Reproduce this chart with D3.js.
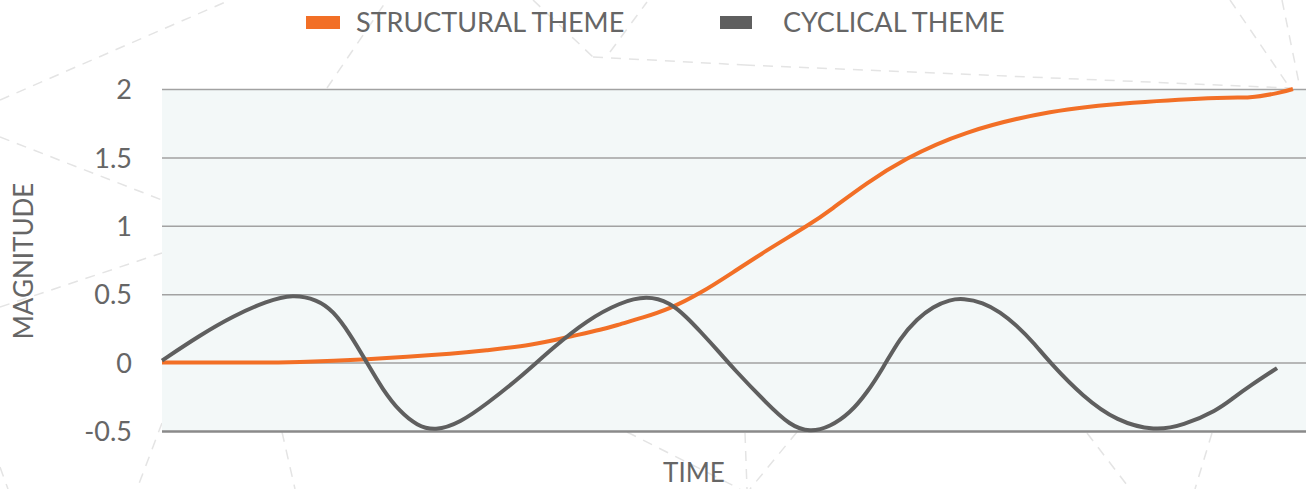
<!DOCTYPE html>
<html>
<head>
<meta charset="utf-8">
<script src="https://cdn.jsdelivr.net/npm/d3@7"></script>
<style>
  html, body { margin: 0; padding: 0; background: #fff; }
  svg { display: block; }
  text { font-family: Lato, "Open Sans", sans-serif; fill: #666; }
</style>
</head>
<body>
<div id="chart"></div>
<script>
// ── data (time is 0..100 across the plot) ──
const SERIES_NAMES = ["STRUCTURAL THEME", "CYCLICAL THEME"];
const Y_TICKS      = [-0.5, 0, 0.5, 1, 1.5, 2];

const STRUCT_T = [0, 7.69, 12.06, 17.92, 25.17, 28.41, 32.17, 35.40, 38.29, 40.03, 42.05, 44.41, 47.03, 49.91, 52.88, 56.38, 58.65, 61.63, 65.12, 70.37, 77.62, 84.88, 92.22, 95.10, 97.47, 98.86];
const STRUCT_V = [0, 0, 0.005, 0.025, 0.065, 0.09, 0.13, 0.185, 0.24, 0.28, 0.33, 0.4, 0.51, 0.66, 0.82, 1.0, 1.13, 1.31, 1.49, 1.68, 1.83, 1.9, 1.935, 1.94, 1.97, 2.0];

const CYCLE_T = [0, 3.32, 6.21, 9.18, 11.45, 13.55, 14.95, 16.43, 17.91, 19.31, 20.80, 22.29, 23.86, 26.05, 28.41, 31.29, 34.18, 37.15, 40.03, 42.39, 44.41, 45.89, 47.03, 48.78, 49.91, 52.88, 54.90, 56.64, 58.39, 60.14, 61.63, 63.02, 64.51, 66.00, 67.40, 68.88, 70.02, 71.77, 73.25, 74.74, 76.14, 77.62, 80.51, 83.48, 86.80, 89.25, 92.22, 93.62, 95.10, 97.47];
const CYCLE_V = [0.015, 0.2, 0.34, 0.45, 0.5, 0.46, 0.38, 0.21, 0, -0.2, -0.36, -0.46, -0.5, -0.44, -0.3, -0.11, 0.11, 0.31, 0.44, 0.49, 0.44, 0.33, 0.23, 0.07, -0.04, -0.3, -0.46, -0.51, -0.47, -0.37, -0.22, -0.04, 0.18, 0.32, 0.41, 0.46, 0.47, 0.44, 0.37, 0.27, 0.15, 0, -0.25, -0.43, -0.5, -0.46, -0.35, -0.26, -0.17, -0.04];

// decorative dashed network behind the chart (page pixels)
const BG_LINES = [
  [[0, 100], [230, 0]], [[0, 137], [162, 200]], [[0, 307], [162, 253]],
  [[327, 88], [387, 0]], [[533, 0], [593, 57]], [[610, 52], [647, 2]],
  [[593, 57], [745, 65]], [[745, 65], [1290, 88]], [[1230, 0], [1290, 88]],
  [[1282, 0], [1300, 88]], [[162, 423], [137, 489]], [[282, 432], [295, 489]],
  [[0, 467], [8, 489]], [[627, 432], [740, 489]], [[745, 433], [747, 489]],
  [[797, 432], [750, 489]], [[1087, 433], [1130, 489]], [[1212, 433], [1195, 489]]
];

// ── layout ──
const W = 1306, H = 489;
const M = { left: 162, right: 0, top: 89, bottom: 58 };
const COLORS = ["#f26f26", "#5f5f5f"];

const svg = d3.select("#chart").append("svg")
  .attr("width", W).attr("height", H);

// background network
svg.append("g").selectAll("line").data(BG_LINES).join("line")
  .attr("x1", d => d[0][0]).attr("y1", d => d[0][1])
  .attr("x2", d => d[1][0]).attr("y2", d => d[1][1])
  .attr("stroke", "#e4e4e4").attr("stroke-width", 1.5)
  .attr("stroke-dasharray", "10,8");

const x = d3.scaleLinear().domain([0, 100]).range([M.left, W - M.right]);
const y = d3.scaleLinear().domain([-0.5, 2]).range([H - M.bottom, M.top]);

// plot background
svg.append("rect")
  .attr("x", x(0)).attr("y", y(2))
  .attr("width", x(100) - x(0)).attr("height", y(-0.5) - y(2))
  .attr("fill", "#f3f8f8");

// y axis + gridlines
const yAxis = svg.append("g")
  .attr("transform", `translate(${M.left},0)`)
  .call(d3.axisLeft(y).tickValues(Y_TICKS)
    .tickSize(-(W - M.left - M.right))
    .tickPadding(30)
    .tickFormat(d => String(d)));
yAxis.select(".domain").remove();
yAxis.selectAll(".tick line")
  .attr("stroke", d => d === -0.5 ? "#8a8a8a" : "#a2a2a2")
  .attr("stroke-width", d => d === -0.5 ? 2.5 : 1.5);
yAxis.selectAll(".tick text")
  .attr("font-size", "27px")
  .attr("fill", "#666")
  .attr("dy", "0.36em")
  .style("font-family", "Lato, sans-serif");

// lines
const structLine = d3.line().x((d, i) => x(STRUCT_T[i])).y(d => y(d)).curve(d3.curveNatural);
const cycleLine  = d3.line().x((d, i) => x(CYCLE_T[i])).y(d => y(d)).curve(d3.curveBasis);

svg.append("path").datum(STRUCT_V)
  .attr("d", structLine)
  .attr("fill", "none").attr("stroke", COLORS[0])
  .attr("stroke-width", 4).attr("stroke-linecap", "butt");

svg.append("path").datum(CYCLE_V)
  .attr("d", cycleLine)
  .attr("fill", "none").attr("stroke", COLORS[1])
  .attr("stroke-width", 4).attr("stroke-linecap", "butt");

// legend
const LEGEND_X = [306, 720];
const leg = svg.append("g").selectAll("g").data(SERIES_NAMES).join("g")
  .attr("transform", (d, i) => `translate(${LEGEND_X[i]},0)`);
leg.append("rect")
  .attr("x", 0).attr("y", 16).attr("width", (d, i) => i === 0 ? 34 : 32).attr("height", 13)
  .attr("fill", (d, i) => COLORS[i]);
leg.append("text")
  .attr("x", (d, i) => i === 0 ? 50 : 63).attr("y", 32)
  .attr("font-size", "27px")
  .text(d => d);

// axis titles
svg.append("text")
  .attr("x", 694).attr("y", 482)
  .attr("text-anchor", "middle")
  .attr("font-size", "26px")
  .text("TIME");

svg.append("text")
  .attr("transform", "translate(33,261) rotate(-90)")
  .attr("text-anchor", "middle")
  .attr("font-size", "26px")
  .text("MAGNITUDE");
</script>
</body>
</html>
